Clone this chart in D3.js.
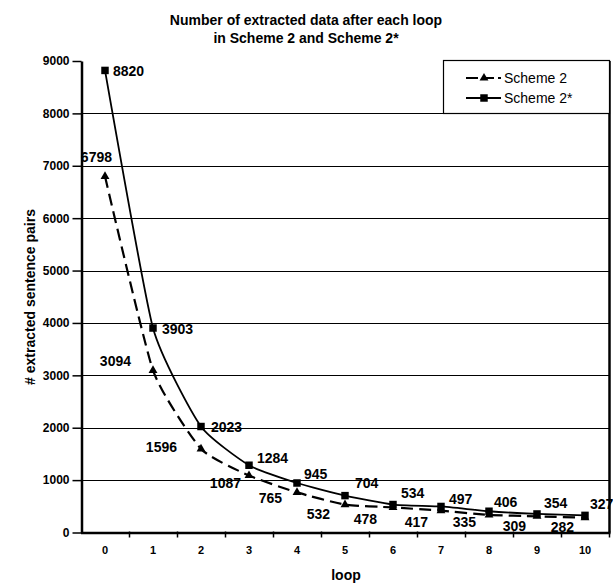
<!DOCTYPE html>
<html>
<head>
<meta charset="utf-8">
<script src="https://cdn.jsdelivr.net/npm/d3@7"></script>
<style>
  html, body { margin: 0; padding: 0; background: #fff; }
  svg { display: block; font-family: "Liberation Sans", Arial, sans-serif; }
</style>
</head>
<body>
<svg id="chart" width="613" height="583"></svg>
<script>
// Loop index and number of extracted sentence pairs after each loop
const loops = ["0", "1", "2", "3", "4", "5", "6", "7", "8", "9", "10"];
const scheme2 = [6798, 3094, 1596, 1087, 765, 532, 478, 417, 335, 309, 282];
const scheme2Star = [8820, 3903, 2023, 1284, 945, 704, 534, 497, 406, 354, 327];
const yTicks = [0, 1000, 2000, 3000, 4000, 5000, 6000, 7000, 8000, 9000];
const seriesNames = ["Scheme 2", "Scheme 2*"];

// Placement of each value label relative to its marker [dx, dy]
const scheme2LabelOffsets = [[7, -19], [-22, -9], [-24, -2], [-8, 7], [-15, 6], [-15, 9],
  [-16, 12], [-13, 11], [-13, 7], [-11, 10], [-11, 9]];
const scheme2StarLabelOffsets = [[8, 1], [9, 1], [10, 0], [8, -7], [7, -9], [10, -13],
  [8, -12], [8, -7], [5, -9], [7, -11], [5, -11]];

const svg = d3.select("#chart");
const plot = { left: 81, right: 609, top: 61, bottom: 532.5 };

const x = d3.scaleBand().domain(loops).range([plot.left, plot.right]).padding(0);
const y = d3.scaleLinear().domain([0, 9000]).range([plot.bottom, plot.top]);
const cx = d => x(d) + x.bandwidth() / 2;

// Title
const title = svg.append("text")
  .attr("x", 306).attr("y", 25)
  .attr("text-anchor", "middle")
  .style("font-size", "14px").style("font-weight", "bold");
title.append("tspan").attr("x", 306).attr("dy", 0).text("Number of extracted data after each loop");
title.append("tspan").attr("x", 306).attr("dy", 18).text("in Scheme 2 and Scheme 2*");

// Horizontal gridlines
svg.append("g").selectAll("line")
  .data(yTicks.filter(t => t > 0 && t < 9000))
  .join("line")
  .attr("x1", plot.left).attr("x2", plot.right)
  .attr("y1", d => Math.round(y(d)) + 0.5).attr("y2", d => Math.round(y(d)) + 0.5)
  .attr("stroke", "#000").attr("stroke-width", 1);

// Right border of the plot area
svg.append("line")
  .attr("x1", plot.right + 0.5).attr("x2", plot.right + 0.5)
  .attr("y1", plot.top).attr("y2", plot.bottom)
  .attr("stroke", "#000").attr("stroke-width", 2.5);

// Series lines, lightly smoothed
const line = d3.line()
  .x((d, i) => cx(loops[i]))
  .y(d => y(d))
  .curve(d3.curveCardinal.tension(0.5));

svg.append("path").datum(scheme2)
  .attr("d", line)
  .attr("fill", "none").attr("stroke", "#000")
  .attr("stroke-width", 2.2).attr("stroke-dasharray", "12,6");

svg.append("path").datum(scheme2Star)
  .attr("d", line)
  .attr("fill", "none").attr("stroke", "#000")
  .attr("stroke-width", 1.8);

// Markers
const tri = d3.symbol().type(d3.symbolTriangle).size(34);
const sq = d3.symbol().type(d3.symbolSquare).size(56);

svg.append("g").selectAll("path")
  .data(scheme2)
  .join("path")
  .attr("d", tri)
  .attr("transform", (d, i) => `translate(${cx(loops[i])},${y(d)})`)
  .attr("fill", "#000");

svg.append("g").selectAll("path")
  .data(scheme2Star)
  .join("path")
  .attr("d", sq)
  .attr("transform", (d, i) => `translate(${cx(loops[i])},${y(d)})`)
  .attr("fill", "#000");

// Value labels
svg.append("g").selectAll("text")
  .data(scheme2)
  .join("text")
  .attr("x", (d, i) => cx(loops[i]) + scheme2LabelOffsets[i][0])
  .attr("y", (d, i) => y(d) + scheme2LabelOffsets[i][1])
  .attr("text-anchor", "end")
  .attr("dominant-baseline", "central")
  .style("font-size", "14px").style("font-weight", "bold")
  .text(d => d);

svg.append("g").selectAll("text")
  .data(scheme2Star)
  .join("text")
  .attr("x", (d, i) => cx(loops[i]) + scheme2StarLabelOffsets[i][0])
  .attr("y", (d, i) => y(d) + scheme2StarLabelOffsets[i][1])
  .attr("text-anchor", "start")
  .attr("dominant-baseline", "central")
  .style("font-size", "14px").style("font-weight", "bold")
  .text(d => d);

// Y axis
const yAxis = svg.append("g")
  .attr("transform", `translate(${plot.left + 0.5},0)`)
  .call(d3.axisLeft(y).tickValues(yTicks).tickFormat(d3.format("d"))
    .tickSize(9).tickSizeOuter(0).tickPadding(3));
yAxis.select(".domain").attr("stroke", "#000").attr("stroke-width", 2.5);
yAxis.selectAll(".tick line").attr("stroke", "#000").attr("stroke-width", 1.5);
yAxis.selectAll(".tick text")
  .attr("fill", "#000")
  .style("font-size", "12px").style("font-weight", "bold")
  .style("font-family", "'Liberation Sans', Arial, sans-serif");

// X axis: tick marks at category boundaries, labels centred in each band
const xAxisG = svg.append("g");
xAxisG.append("line")
  .attr("x1", plot.left).attr("x2", plot.right + 1.5)
  .attr("y1", plot.bottom + 0.5).attr("y2", plot.bottom + 0.5)
  .attr("stroke", "#000").attr("stroke-width", 2.5);
xAxisG.selectAll("line.tk")
  .data(loops.slice(1).concat(["__end"]))
  .join("line").attr("class", "tk")
  .attr("x1", d => (d === "__end" ? plot.right : x(d)) + 0.5)
  .attr("x2", d => (d === "__end" ? plot.right : x(d)) + 0.5)
  .attr("y1", plot.bottom - 1).attr("y2", plot.bottom + 5)
  .attr("stroke", "#000").attr("stroke-width", 1.5);
xAxisG.selectAll("text")
  .data(loops)
  .join("text")
  .attr("x", d => cx(d))
  .attr("y", 550)
  .attr("text-anchor", "middle")
  .attr("dominant-baseline", "central")
  .style("font-size", "11px").style("font-weight", "bold")
  .text(d => d);

// Axis titles
svg.append("text")
  .attr("x", 346).attr("y", 575)
  .attr("text-anchor", "middle").attr("dominant-baseline", "central")
  .style("font-size", "14px").style("font-weight", "bold")
  .text("loop");

svg.append("text")
  .attr("transform", "translate(30,297) rotate(-90)")
  .attr("text-anchor", "middle").attr("dominant-baseline", "central")
  .style("font-size", "14px").style("font-weight", "bold")
  .text("# extracted sentence pairs");

// Legend
const legend = svg.append("g");
legend.append("rect")
  .attr("x", 443.5).attr("y", 60.5)
  .attr("width", plot.right - 443).attr("height", 53)
  .attr("fill", "#fff").attr("stroke", "#000").attr("stroke-width", 1.2);

const legendRows = [
  { name: seriesNames[0], y: 78, dash: "12,4", sym: tri },
  { name: seriesNames[1], y: 98, dash: null, sym: sq }
];
legendRows.forEach(r => {
  legend.append("line")
    .attr("x1", 466).attr("x2", 501)
    .attr("y1", r.y).attr("y2", r.y)
    .attr("stroke", "#000").attr("stroke-width", 2)
    .attr("stroke-dasharray", r.dash);
  legend.append("path")
    .attr("d", r.sym)
    .attr("transform", `translate(484,${r.y})`)
    .attr("fill", "#000");
  legend.append("text")
    .attr("x", 504).attr("y", r.y)
    .attr("dominant-baseline", "central")
    .style("font-size", "14px")
    .text(r.name);
});
</script>
</body>
</html>
